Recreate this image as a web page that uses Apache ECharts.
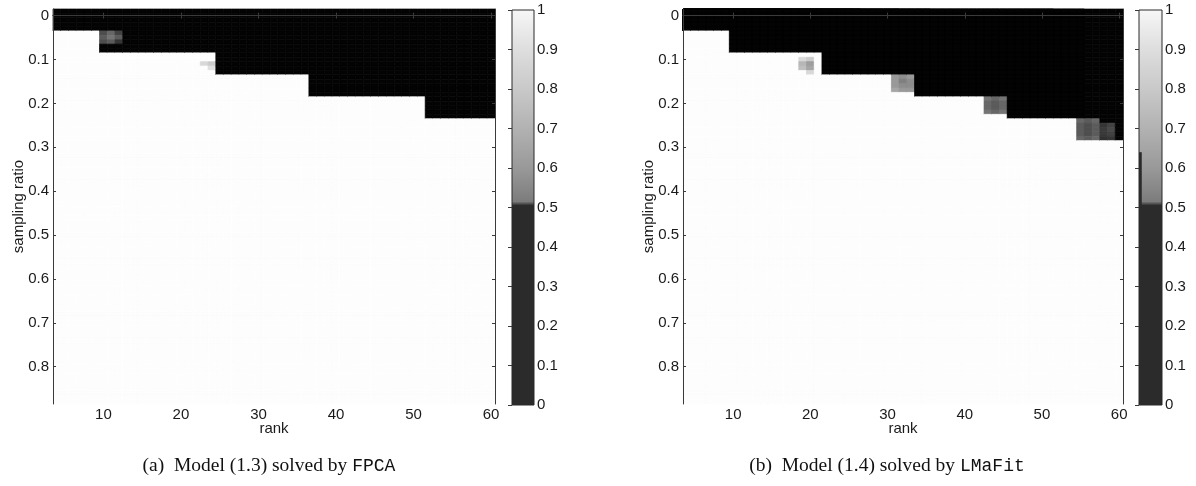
<!DOCTYPE html>
<html><head><meta charset="utf-8">
<script src="https://cdn.jsdelivr.net/npm/echarts@6/dist/echarts.min.js"></script>
<style>html,body{margin:0;padding:0;background:#fff}#c{width:1196px;height:486px}</style>
</head><body><div id="c"></div>
<script>
// ---- grid coordinates (columns = rank, rows = sampling ratio) ----
const ranks = [4,5,6,7,8,9,10,11,12,13,14,15,16,17,18,19,20,21,22,23,24,25,26,27,28,29,30,31,32,33,34,35,36,37,38,39,40,41,42,43,44,45,46,47,48,49,50,51,52,53,54,55,56,57,58,59,60];
const ratioRows = [-0.01,0.00,0.01,0.02,0.03,0.04,0.05,0.06,0.07,0.08,0.09,0.10,0.11,0.12,0.13,0.14,0.15,0.16,0.17,0.18,0.19,0.20,0.21,0.22,0.23,0.24,0.25,0.26,0.27,0.28,0.29,0.30,0.31,0.32,0.33,0.34,0.35,0.36,0.37,0.38,0.39,0.40,0.41,0.42,0.43,0.44,0.45,0.46,0.47,0.48,0.49,0.50,0.51,0.52,0.53,0.54,0.55,0.56,0.57,0.58,0.59,0.60,0.61,0.62,0.63,0.64,0.65,0.66,0.67,0.68,0.69,0.70,0.71,0.72,0.73,0.74,0.75,0.76,0.77,0.78,0.79,0.80,0.81,0.82,0.83,0.84,0.85,0.86,0.87,0.88];

// highest sampling ratio that still fails (value 0) for each rank
const fpcaLastFail = [0.03,0.03,0.03,0.03,0.03,0.03,
  0.08,0.08,0.08,0.08,0.08,0.08,0.08,0.08,0.08,0.08,0.08,0.08,0.08,0.08,0.08,
  0.13,0.13,0.13,0.13,0.13,0.13,0.13,0.13,0.13,0.13,0.13,0.13,
  0.18,0.18,0.18,0.18,0.18,0.18,0.18,0.18,0.18,0.18,0.18,0.18,0.18,0.18,0.18,
  0.23,0.23,0.23,0.23,0.23,0.23,0.23,0.23,0.23];
const lmafitLastFail = [0.03,0.03,0.03,0.03,0.03,0.03,
  0.08,0.08,0.08,0.08,0.08,0.08,0.08,0.08,0.08,0.08,0.08,0.08,
  0.13,0.13,0.13,0.13,0.13,0.13,0.13,0.13,0.13,
  0.13,0.13,0.13,
  0.18,0.18,0.18,0.18,0.18,0.18,0.18,0.18,0.18,
  0.18,0.18,0.18,
  0.23,0.23,0.23,0.23,0.23,0.23,0.23,0.23,0.23,
  0.23,0.23,0.23,
  0.28,0.28,0.28];

// partial-success cells [rank, ratio, value]
const fpcaGray = [[10,0.04,0.3],[11,0.04,0.4],[12,0.04,0.25],[10,0.05,0.35],[11,0.05,0.45],[12,0.05,0.35],
  [10,0.06,0.3],[11,0.06,0.35],[12,0.06,0.2],[23,0.11,0.85],[24,0.11,0.8],[24,0.12,0.88]];
const lmafitGray = [[19,0.10,0.85],[19,0.11,0.72],[19,0.12,0.75],[20,0.10,0.8],[20,0.11,0.62],[20,0.12,0.65],[20,0.13,0.85],
  [31,0.14,0.6],[32,0.14,0.55],[33,0.14,0.6],[31,0.15,0.6],[32,0.15,0.5],[33,0.15,0.55],
  [31,0.16,0.6],[32,0.16,0.55],[33,0.16,0.55],[31,0.17,0.65],[32,0.17,0.6],[33,0.17,0.6],
  [43,0.19,0.45],[44,0.19,0.4],[45,0.19,0.45],[43,0.20,0.4],[44,0.20,0.35],[45,0.20,0.4],
  [43,0.21,0.4],[44,0.21,0.35],[45,0.21,0.4],[43,0.22,0.45],[44,0.22,0.4],[45,0.22,0.45],
  [55,0.24,0.4],[56,0.24,0.35],[57,0.24,0.4],[55,0.25,0.35],[56,0.25,0.3],[57,0.25,0.35],
  [55,0.26,0.35],[56,0.26,0.3],[57,0.26,0.35],[55,0.27,0.35],[56,0.27,0.3],[57,0.27,0.35],
  [55,0.28,0.4],[56,0.28,0.35],[57,0.28,0.4],
  [58,0.25,0.2],[59,0.25,0.25],[58,0.26,0.22],[59,0.26,0.28],[58,0.27,0.22],[59,0.27,0.25],[58,0.28,0.18],[59,0.28,0.2]];

// tick labels
const yTicks = [0,0.1,0.2,0.3,0.4,0.5,0.6,0.7,0.8];
const xTicks = [10,20,30,40,50,60];
const cbTicks = [0,0.1,0.2,0.3,0.4,0.5,0.6,0.7,0.8,0.9,1];
// colorbar shading (value, grey)
const cbStops = [[0,'#2b2b2b'],[0.505,'#2b2b2b'],[0.515,'#7c7c7c'],[0.6,'#999999'],[0.7,'#b2b2b2'],[0.8,'#c9c9c9'],[0.9,'#dedede'],[1,'#f7f7f7']];
const cbRightStrip = [[0, 0.12, 0.5, 0.64]];

function buildCells(lastFail, gray) {
  const cells = [];
  const over = {};
  gray.forEach(g => { over[g[0] + '_' + g[1].toFixed(2)] = g[2]; });
  ranks.forEach((r, i) => {
    ratioRows.forEach(s => {
      const key = r + '_' + s.toFixed(2);
      let v = s <= lastFail[i] + 1e-9 ? 0 : 1;
      if (key in over) v = over[key];
      cells.push([r, s, v]);
    });
  });
  return cells;
}
const fpcaCells = buildCells(fpcaLastFail, fpcaGray);
const lmafitCells = buildCells(lmafitLastFail, lmafitGray);

function cellItem(params, api) {
  const x = api.value(0), y = api.value(1);
  const p0 = api.coord([x - 0.5, y - 0.005]);
  const p1 = api.coord([x + 0.5, y + 0.005]);
  const c = api.visual('color');
  return {type: 'rect', shape: {x: Math.min(p0[0], p1[0]), y: Math.min(p0[1], p1[1]),
    width: Math.abs(p1[0] - p0[0]), height: Math.abs(p1[1] - p0[1])},
    style: {fill: c, stroke: c, lineWidth: 0.7}};
}
function cbItem(params, api) {
  const p0 = api.coord([0, 1]);
  const p1 = api.coord([1, 0]);
  return {type: 'rect', shape: {x: p0[0], y: p0[1], width: p1[0] - p0[0], height: p1[1] - p0[1]},
    style: {fill: new echarts.graphic.LinearGradient(0, 1, 0, 0, cbStops.map(s => ({offset: s[0], color: s[1]}))),
      stroke: '#2a2a2a', lineWidth: 1}};
}
function stripItem(params, api) {
  const p0 = api.coord([api.value(0), api.value(3)]);
  const p1 = api.coord([api.value(1), api.value(2)]);
  return {type: 'rect', shape: {x: p0[0], y: p0[1], width: p1[0] - p0[0], height: p1[1] - p0[1]},
    style: {fill: '#2b2b2b'}};
}

const FONT = 'Liberation Sans, Arial, sans-serif';
const lbl = {color: '#1a1a1a', fontFamily: FONT, fontSize: 15};
const nameLbl = {color: '#1a1a1a', fontFamily: FONT, fontSize: 15};
const lineC = '#3a3a3a';

function plotAxes(g) {
  const xa = [
    {gridIndex: g, type: 'value', min: 3.5, max: 60.5, position: 'bottom', z: 5,
     name: 'rank', nameLocation: 'middle', nameGap: 17, nameMoveOverlap: false, nameTextStyle: nameLbl,
     axisLine: {lineStyle: {color: lineC, width: 1}}, splitLine: {show: false},
     axisTick: {inside: true, length: 3, customValues: xTicks, lineStyle: {color: lineC}},
     axisLabel: Object.assign({customValues: xTicks, margin: 3, formatter: v => String(v)}, lbl)},
    {gridIndex: g, type: 'value', min: 3.5, max: 60.5, position: 'top', z: 5,
     axisLine: {lineStyle: {color: lineC, width: 1}}, splitLine: {show: false},
     axisTick: {inside: true, length: 3, customValues: xTicks, lineStyle: {color: lineC}},
     axisLabel: {show: false}}
  ];
  const ya = [
    {gridIndex: g, type: 'value', min: -0.015, max: 0.885, inverse: true, position: 'left', z: 5,
     name: 'sampling ratio', nameLocation: 'middle', nameGap: 27, nameMoveOverlap: false, nameTextStyle: nameLbl,
     axisLine: {lineStyle: {color: lineC, width: 1}}, splitLine: {show: false},
     axisTick: {inside: true, length: 3, customValues: yTicks, lineStyle: {color: lineC}},
     axisLabel: Object.assign({customValues: yTicks, margin: 4, formatter: v => String(v)}, lbl)},
    {gridIndex: g, type: 'value', min: -0.015, max: 0.885, inverse: true, position: 'right', z: 5,
     axisLine: {lineStyle: {color: lineC, width: 1}}, splitLine: {show: false},
     axisTick: {inside: true, length: 3, customValues: yTicks, lineStyle: {color: lineC}},
     axisLabel: {show: false}}
  ];
  return {xa, ya};
}
function cbAxes(g) {
  return {
    xa: [{gridIndex: g, type: 'value', min: 0, max: 1, show: false}],
    ya: [{gridIndex: g, type: 'value', min: 0, max: 1, position: 'right', z: 5,
      axisLine: {show: false}, splitLine: {show: false},
      axisTick: {inside: true, length: 4, customValues: cbTicks, lineStyle: {color: lineC}},
      axisLabel: Object.assign({customValues: cbTicks, margin: 3, formatter: v => String(v)}, lbl)}]
  };
}
const A0 = plotAxes(0), A1 = plotAxes(1), C2 = cbAxes(2), C3 = cbAxes(3);
const chart = echarts.init(document.getElementById('c'), null, {renderer: 'canvas'});
chart.setOption({
  animation: false,
  backgroundColor: '#ffffff',
  grid: [
    {left: 53, top: 9, width: 442, height: 395},
    {left: 683, top: 9, width: 440, height: 395},
    {left: 512, top: 10, width: 22, height: 395},
    {left: 1139, top: 10, width: 23, height: 395}
  ],
  xAxis: [].concat(A0.xa, A1.xa, C2.xa, C3.xa),
  yAxis: [].concat(A0.ya, A1.ya, C2.ya, C3.ya),
  visualMap: [{show: false, type: 'continuous', seriesIndex: [0, 1], dimension: 2, min: 0, max: 1,
    inRange: {color: ['#030303', '#fdfdfd']}}],
  series: [
    {type: 'custom', name: 'FPCA', xAxisIndex: 0, yAxisIndex: 0, data: fpcaCells, renderItem: cellItem,
     encode: {x: 0, y: 1}, clip: true, z: 1, silent: true},
    {type: 'custom', name: 'LMaFit', xAxisIndex: 2, yAxisIndex: 2, data: lmafitCells, renderItem: cellItem,
     encode: {x: 0, y: 1}, clip: true, z: 1, silent: true},
    {type: 'custom', xAxisIndex: 4, yAxisIndex: 4, data: [[0, 1]], renderItem: cbItem, z: 1, silent: true},
    {type: 'custom', xAxisIndex: 5, yAxisIndex: 5, data: [[0, 1]], renderItem: cbItem, z: 1, silent: true},
    {type: 'custom', xAxisIndex: 5, yAxisIndex: 5, data: cbRightStrip, renderItem: stripItem, z: 2, silent: true}
  ],
  graphic: [
    {type: 'text', x: 269, y: 466, style: {text: '{s|(a)  Model (1.3) solved by }{m|FPCA}',
      align: 'center', verticalAlign: 'middle',
      rich: {s: {fontFamily: 'Liberation Serif, Times New Roman, serif', fontSize: 19.5, fill: '#111', color: '#111'},
             m: {fontFamily: 'Liberation Mono, Courier New, monospace', fontSize: 18, fill: '#111', color: '#111'}}}},
    {type: 'text', x: 887, y: 466, style: {text: '{s|(b)  Model (1.4) solved by }{m|LMaFit}',
      align: 'center', verticalAlign: 'middle',
      rich: {s: {fontFamily: 'Liberation Serif, Times New Roman, serif', fontSize: 19.5, fill: '#111', color: '#111'},
             m: {fontFamily: 'Liberation Mono, Courier New, monospace', fontSize: 18, fill: '#111', color: '#111'}}}}
  ]
});
</script></body></html>
